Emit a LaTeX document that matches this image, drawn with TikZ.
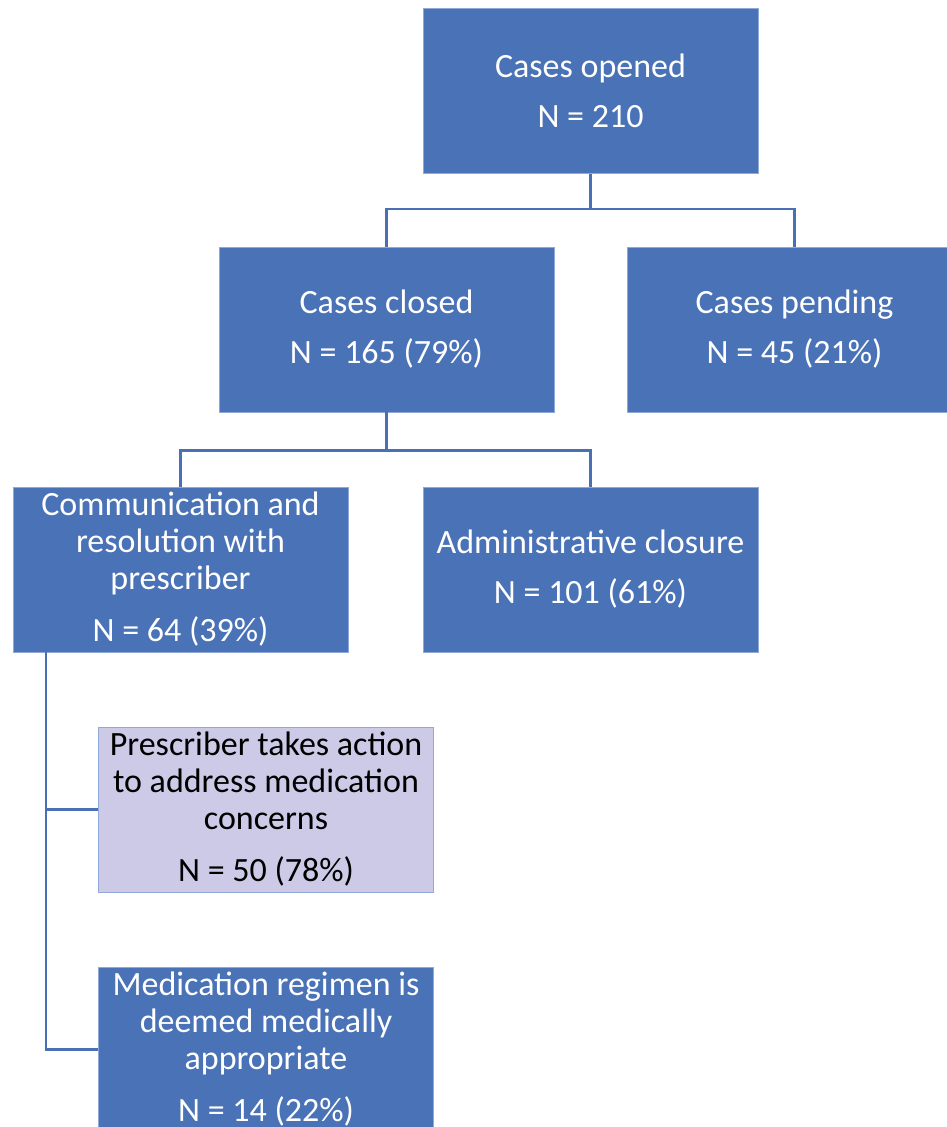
\documentclass[tikz,border=0pt]{standalone}
\usepackage{fontspec}
\setmainfont{Carlito}
\definecolor{boxblue}{HTML}{4A72B7}
\definecolor{boxedge}{HTML}{8EA9DA}
\definecolor{linkblue}{HTML}{4A6FB5}
\definecolor{lav}{HTML}{CCCAE6}
\tikzset{
  flowbox/.style={rectangle, fill=boxblue, draw=boxedge, line width=0.8pt,
    minimum width=335pt, minimum height=165pt, inner sep=0pt,
    text=white, align=center, font=\fontsize{34}{37}\selectfont},
  lavbox/.style={flowbox, fill=lav, text=black},
  link/.style={draw=linkblue, line width=2.2pt}
}
\begin{document}
\begin{tikzpicture}[x=1pt, y=-1pt]
\useasboundingbox (0,0) rectangle (947,1127);
\clip (0,0) rectangle (947,1127);
\node[flowbox] (open) at (590.5,91) {Cases opened\\[13pt]N = 210};
\node[flowbox] (closed) at (386.5,329.5) {Cases closed\\[13pt]N = 165 (79\%)};
\node[flowbox] (pend) at (794.5,329.5) {Cases pending\\[13pt]N = 45 (21\%)};
\node[flowbox] (comm) at (180.5,569.5) {Communication and\\resolution with\\prescriber\\[15pt]N = 64 (39\%)};
\node[flowbox] (admin) at (590.5,569.5) {Administrative closure\\[13pt]N = 101 (61\%)};
\node[lavbox] (presc) at (266,809.5) {Prescriber takes action\\to address medication\\concerns\\[15pt]N = 50 (78\%)};
\node[flowbox] (med) at (266,1049.5) {Medication regimen is\\deemed medically\\appropriate\\[15pt]N = 14 (22\%)};
\draw[link] (open.south) -- ++(0,35) -| (closed.north);
\draw[link] (open.south) -- ++(0,35) -| (pend.north);
\draw[link] (closed.south) -- ++(0,38) -| (comm.north);
\draw[link] (closed.south) -- ++(0,38) -| (admin.north);
\coordinate (trunk) at ([xshift=33pt]comm.south west);
\draw[link] (trunk) |- (presc.west);
\draw[link] (trunk) |- (med.west);
\end{tikzpicture}
\end{document}
